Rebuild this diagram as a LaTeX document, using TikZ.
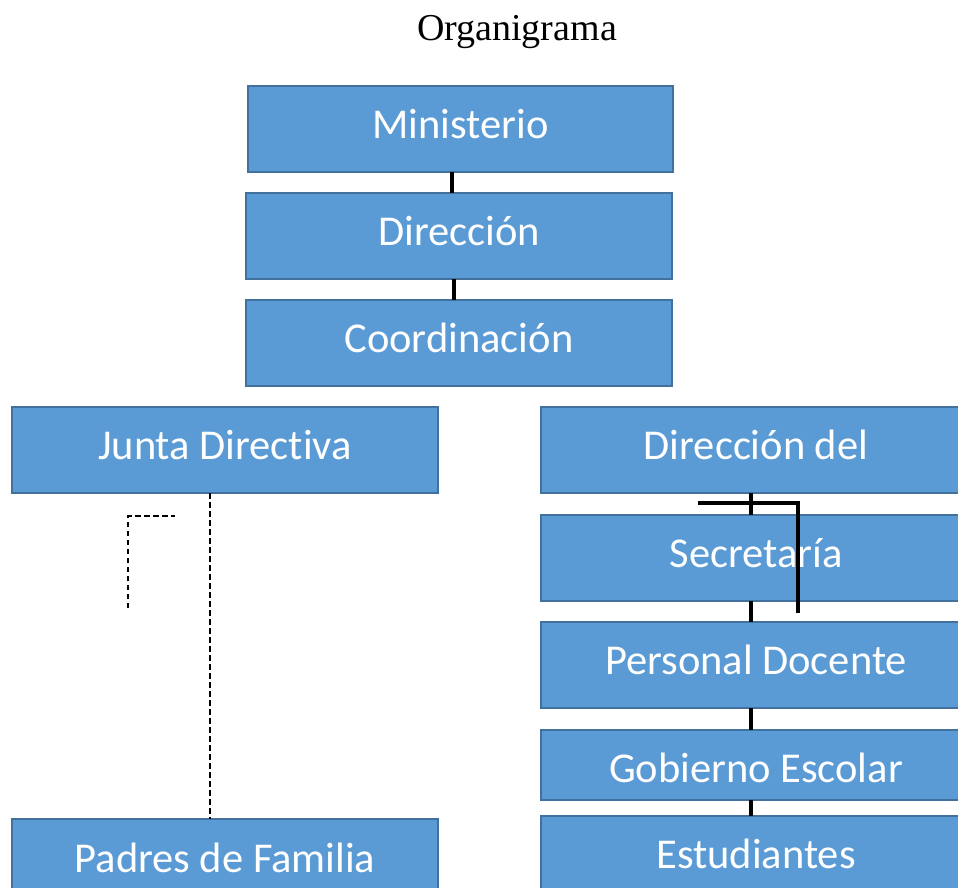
\documentclass[tikz,border=0pt]{standalone}
\usepackage{fontspec}
\setmainfont{Liberation Serif}
\newfontfamily\boxfont[Ligatures=NoCommon]{Carlito}
\definecolor{boxfill}{HTML}{5B9BD5}
\definecolor{boxline}{HTML}{41719C}
\begin{document}
\begin{tikzpicture}[x=1pt,y=-1pt,
  orgbox/.style={draw=boxline, line width=1.6pt, fill=boxfill, text=white,
    font=\boxfont\fontsize{42.5}{46}\selectfont, inner sep=0pt, outer sep=0pt,
    text height=30pt, text depth=11.4pt},
  solidlink/.style={line width=3.3pt, black},
  dashlink/.style={line width=1.5pt, black, dash pattern=on 5.5pt off 3.5pt}]
\useasboundingbox (0,0) rectangle (958,888);
\clip (0,0) rectangle (958,888);
\node[font=\fontsize{38}{42}\selectfont] (title) at (517,32) {Organigrama};
\node[orgbox, minimum width=425pt, minimum height=86pt] (min) at (460.5,129) {Ministerio};
\node[orgbox, minimum width=426pt, minimum height=86pt] (dir) at (459,236) {Dirección};
\node[orgbox, minimum width=426pt, minimum height=86pt] (coo) at (459,343) {Coordinación};
\node[orgbox, minimum width=426pt, minimum height=86pt] (jun) at (225,450) {Junta Directiva};
\node[orgbox, minimum width=430pt, minimum height=86pt] (ddl) at (756,450) {Dirección del};
\node[orgbox, minimum width=430pt, minimum height=86pt] (sec) at (756,558) {Secretaría};
\node[orgbox, minimum width=430pt, minimum height=86pt] (per) at (756,665) {Personal Docente};
\node[orgbox, minimum width=430pt, minimum height=70pt, text height=38pt, text depth=3.4pt] (gob) at (756,765) {Gobierno Escolar};
\node[orgbox, minimum width=430pt, minimum height=78pt, text height=34pt, text depth=7.4pt] (est) at (756,855) {Estudiantes};
\node[orgbox, minimum width=426pt, minimum height=78pt, text height=35pt, text depth=6.4pt] (pad) at (225,858) {Padres de Familia};
% solid links
\draw[solidlink] ([xshift=-8.5pt]min.south) -- ([xshift=-7pt]dir.north);
\draw[solidlink] ([xshift=-5pt]dir.south) -- ([xshift=-5pt]coo.north);
\draw[solidlink] ([xshift=-5pt]ddl.south) -- ([xshift=-5pt]sec.north);
\draw[solidlink] ([xshift=-5pt]sec.south) -- ([xshift=-5pt]per.north);
\draw[solidlink] ([xshift=-5pt]per.south) -- ([xshift=-5pt]gob.north);
\draw[solidlink] ([xshift=-5pt]gob.south) -- ([xshift=-5pt]est.north);
\coordinate (h1) at (698,503);
\coordinate (h2) at (798,613);
\draw[solidlink] (h1) -| (h2);
% dashed links
\draw[dashlink] ([xshift=-15pt]jun.south) -- ([xshift=-15pt]pad.north);
\coordinate (l1) at (128,608);
\coordinate (l2) at (175,516);
\draw[dashlink] (l1) |- (l2);
\end{tikzpicture}
\end{document}
